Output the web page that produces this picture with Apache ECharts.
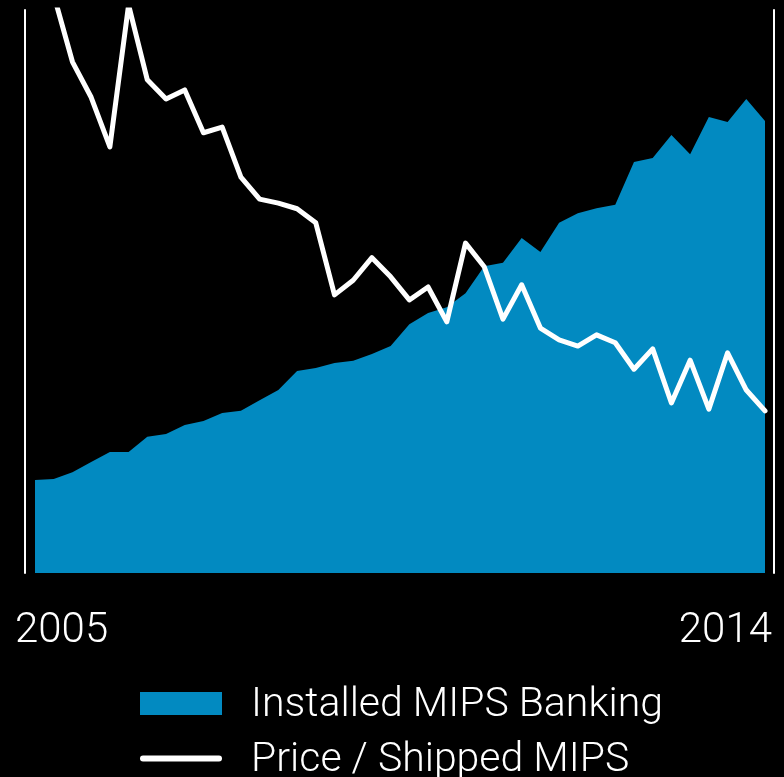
<!DOCTYPE html>
<html>
<head>
<meta charset="utf-8">
<script src="https://cdn.jsdelivr.net/npm/echarts@6/dist/echarts.min.js"></script>
<style>
html,body{margin:0;padding:0;background:#000;}
#chart{width:784px;height:777px;}
</style>
</head>
<body>
<div id="chart"></div>
<script>
// Quarterly categories 2005 Q1 .. 2014 Q4
var quarters = [
  '2005 Q1','2005 Q2','2005 Q3','2005 Q4',
  '2006 Q1','2006 Q2','2006 Q3','2006 Q4',
  '2007 Q1','2007 Q2','2007 Q3','2007 Q4',
  '2008 Q1','2008 Q2','2008 Q3','2008 Q4',
  '2009 Q1','2009 Q2','2009 Q3','2009 Q4',
  '2010 Q1','2010 Q2','2010 Q3','2010 Q4',
  '2011 Q1','2011 Q2','2011 Q3','2011 Q4',
  '2012 Q1','2012 Q2','2012 Q3','2012 Q4',
  '2013 Q1','2013 Q2','2013 Q3','2013 Q4',
  '2014 Q1','2014 Q2','2014 Q3','2014 Q4'
];
var tickLabels = ['2005', '2014'];

var installedMips = [
  16.5, 16.7, 17.9, 19.7, 21.5, 21.5, 24.2, 24.7, 26.3, 27.0,
  28.4, 28.8, 30.7, 32.5, 35.9, 36.4, 37.3, 37.7, 38.9, 40.3,
  44.2, 46.2, 47.2, 49.7, 54.5, 55.1, 59.5, 57.0, 62.2, 63.9,
  64.8, 65.4, 73.0, 73.7, 77.8, 74.4, 81.0, 80.1, 84.2, 80.3
];
var pricePerMips = [
  112.4, 102.7, 90.8, 84.5, 75.7, 100.9, 87.6, 84.2, 85.8, 78.2,
  79.2, 70.3, 66.4, 65.7, 64.7, 62.2, 49.4, 52.0, 56.0, 52.6,
  48.5, 50.8, 44.6, 58.6, 54.4, 45.1, 51.2, 43.5, 41.4, 40.3,
  42.3, 40.9, 36.2, 39.8, 30.2, 37.8, 29.1, 39.1, 32.5, 28.8
];

var seriesNames = ['Installed MIPS Banking', 'Price / Shipped MIPS'];
var FONT = '"Roboto Light", Roboto, "Helvetica Neue", "Liberation Sans", sans-serif';
var BLUE = '#028ac1';

var legendText = {color: '#fff', fontSize: 41, fontWeight: 300, fontFamily: FONT, padding: [0, 0, 0, 24]};

var chart = echarts.init(document.getElementById('chart'), null, {renderer: 'canvas'});
chart.setOption({
  backgroundColor: '#000',
  animation: false,
  grid: [
    {left: 35, right: 19, top: 10, bottom: 204},
    {left: 15, right: 12, top: 10, bottom: 204}
  ],
  xAxis: [
    {
      type: 'category', gridIndex: 0, data: quarters, boundaryGap: false, show: false
    },
    {
      type: 'category', gridIndex: 1, data: tickLabels, boundaryGap: false,
      axisLine: {show: false}, axisTick: {show: false}, splitLine: {show: false},
      axisLabel: {
        show: true, interval: 0, color: '#fff', fontSize: 42, fontWeight: 300,
        fontFamily: FONT, margin: 36,
        alignMinLabel: 'left', alignMaxLabel: 'right'
      }
    }
  ],
  yAxis: [
    {
      type: 'value', gridIndex: 0, min: 0, max: 100, position: 'left', offset: 10,
      axisLine: {show: true, lineStyle: {color: '#fff', width: 2}},
      axisTick: {show: false}, axisLabel: {show: false}, splitLine: {show: false}
    },
    {
      type: 'value', gridIndex: 0, min: 0, max: 100, position: 'right', offset: 9,
      axisLine: {show: true, lineStyle: {color: '#fff', width: 2}},
      axisTick: {show: false}, axisLabel: {show: false}, splitLine: {show: false}
    },
    {
      type: 'value', gridIndex: 1, min: 0, max: 100, show: false
    }
  ],
  legend: [
    {
      left: 135, top: 678,
      itemWidth: 82, itemHeight: 23,
      textStyle: legendText,
      data: [{name: seriesNames[0], icon: 'rect', itemStyle: {color: BLUE}}]
    },
    {
      left: 135, top: 733,
      itemWidth: 82, itemHeight: 6,
      textStyle: legendText,
      data: [{
        name: seriesNames[1],
        icon: 'path://M3,0 L79,0 A3,3 0 0 1 79,6 L3,6 A3,3 0 0 1 3,0 Z',
        itemStyle: {color: '#fff', borderWidth: 0}
      }]
    }
  ],
  series: [
    {
      name: seriesNames[0], type: 'line', xAxisIndex: 0, yAxisIndex: 0,
      data: installedMips, symbol: 'none', showSymbol: false,
      itemStyle: {color: BLUE},
      lineStyle: {width: 0, color: BLUE},
      areaStyle: {color: BLUE, opacity: 1},
      z: 2
    },
    {
      name: seriesNames[1], type: 'line', xAxisIndex: 0, yAxisIndex: 0,
      data: pricePerMips, symbol: 'none', showSymbol: false, clip: true,
      itemStyle: {color: '#fff'},
      lineStyle: {width: 5, color: '#fff', cap: 'round', join: 'round'},
      z: 3
    }
  ]
});
</script>
</body>
</html>
